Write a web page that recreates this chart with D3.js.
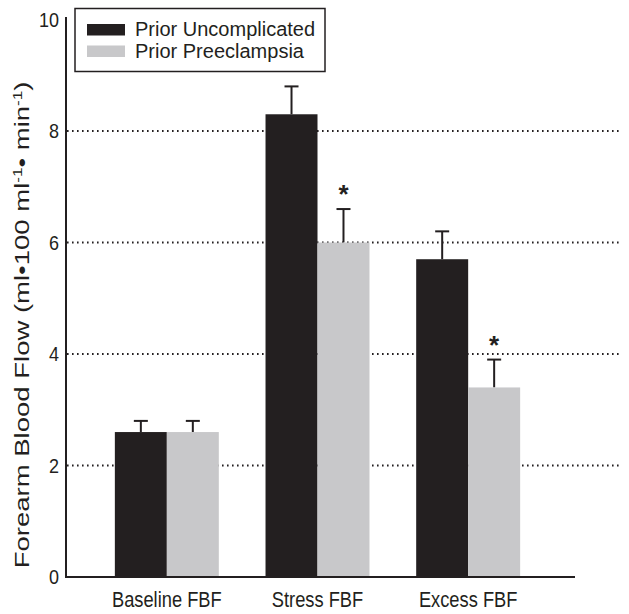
<!DOCTYPE html>
<html>
<head>
<meta charset="utf-8">
<script src="https://cdn.jsdelivr.net/npm/d3@7"></script>
<style>
  body { margin: 0; background: #fff; }
  text { font-family: "Liberation Sans", Arial, sans-serif; fill: #231f20; }
</style>
</head>
<body>
<div id="chart"></div>
<script>
var categories = ["Baseline FBF", "Stress FBF", "Excess FBF"]
var seriesNames = ["Prior Uncomplicated", "Prior Preeclampsia"]
var uncomplicated = [2.6, 8.3, 5.7]
var uncomplicatedErr = [0.2, 0.5, 0.5]
var preeclampsia = [2.6, 6.0, 3.4]
var preeclampsiaErr = [0.2, 0.6, 0.5]
var significant = [false, true, true]
var yTicks = [0, 2, 4, 6, 8, 10]
var gridTicks = [2, 4, 6, 8]

var width = 629, height = 614
var colors = ["#231f20", "#c8c8ca"]

var svg = d3.select("#chart").append("svg")
    .attr("width", width)
    .attr("height", height)

var y = d3.scaleLinear().domain([0, 10]).range([577, 19.5])
var x = d3.scaleBand().domain(categories).range([91.5, 543.5])
    .paddingInner(0.31).paddingOuter(0.155)
var xs = d3.scaleBand().domain([0, 1]).range([0, x.bandwidth()])

// dotted grid
svg.selectAll(".grid").data(gridTicks).enter().append("line")
    .attr("x1", 67).attr("x2", 622)
    .attr("y1", d => y(d)).attr("y2", d => y(d))
    .attr("stroke", "#231f20")
    .attr("stroke-width", 2)
    .attr("stroke-dasharray", "1.6,3.4")

var rows = categories.map((c, i) => [
    {cat: c, s: 0, v: uncomplicated[i], e: uncomplicatedErr[i]},
    {cat: c, s: 1, v: preeclampsia[i], e: preeclampsiaErr[i], sig: significant[i]}
])
var flat = [].concat.apply([], rows)

// error bars
var err = svg.selectAll(".err").data(flat).enter().append("g")
err.append("line")
    .attr("x1", d => x(d.cat) + xs(d.s) + xs.bandwidth() / 2)
    .attr("x2", d => x(d.cat) + xs(d.s) + xs.bandwidth() / 2)
    .attr("y1", d => y(d.v)).attr("y2", d => y(d.v + d.e))
    .attr("stroke", "#231f20").attr("stroke-width", 2)
err.append("line")
    .attr("x1", d => x(d.cat) + xs(d.s) + xs.bandwidth() / 2 - 7)
    .attr("x2", d => x(d.cat) + xs(d.s) + xs.bandwidth() / 2 + 7)
    .attr("y1", d => y(d.v + d.e)).attr("y2", d => y(d.v + d.e))
    .attr("stroke", "#231f20").attr("stroke-width", 2)

// bars
svg.selectAll(".bar").data(flat).enter().append("rect")
    .attr("x", d => x(d.cat) + xs(d.s))
    .attr("width", xs.bandwidth())
    .attr("y", d => y(d.v))
    .attr("height", d => y(0) - y(d.v))
    .attr("fill", d => colors[d.s])

// asterisks
svg.selectAll(".star").data(flat.filter(d => d.sig)).enter().append("text")
    .attr("x", d => x(d.cat) + xs(d.s) + xs.bandwidth() / 2)
    .attr("y", d => y(d.v + d.e) - 6)
    .attr("text-anchor", "middle")
    .attr("font-size", 26)
    .attr("font-weight", "bold")
    .text("*")

// axes lines
svg.append("line").attr("x1", 66).attr("x2", 66).attr("y1", 17).attr("y2", 578)
    .attr("stroke", "#231f20").attr("stroke-width", 2)
svg.append("line").attr("x1", 65).attr("x2", 575).attr("y1", 577).attr("y2", 577)
    .attr("stroke", "#231f20").attr("stroke-width", 2)

// y tick labels (slightly tall glyphs like the original)
svg.selectAll(".ytick").data(yTicks).enter().append("text")
    .attr("transform", d => "translate(59," + (y(d) + 7.4) + ") scale(1,1.15)")
    .attr("text-anchor", "end")
    .attr("font-size", 18)
    .text(d => d)

// x labels
svg.selectAll(".xlab").data(categories).enter().append("text")
    .attr("transform", d => "translate(" + (x(d) + x.bandwidth() / 2) + ",607) scale(1,1.2)")
    .attr("text-anchor", "middle")
    .attr("font-size", 18.3)
    .text(d => d)

// y title
var yt = svg.append("text")
    .attr("transform", "translate(29,325) rotate(-90) scale(1.31,1)")
    .attr("text-anchor", "middle")
    .attr("font-size", 21)
yt.append("tspan").text("Forearm Blood Flow (ml\u2022100 ml")
yt.append("tspan").attr("baseline-shift", "super").attr("font-size", 13).text("-1")
yt.append("tspan").text("\u2022 min")
yt.append("tspan").attr("baseline-shift", "super").attr("font-size", 13).text("-1")
yt.append("tspan").text(")")

// legend
var lg = svg.append("g")
lg.append("rect").attr("x", 75).attr("y", 8.5).attr("width", 250).attr("height", 63)
    .attr("fill", "#fff").attr("stroke", "#231f20").attr("stroke-width", 1.5)
seriesNames.forEach((n, i) => {
    lg.append("rect").attr("x", 87).attr("y", 24 + i * 21.5).attr("width", 38).attr("height", 11.5)
        .attr("fill", colors[i])
    lg.append("text").attr("x", 135).attr("y", 36 + i * 21.5)
        .attr("font-size", 20).text(n)
})
</script>
</body>
</html>
